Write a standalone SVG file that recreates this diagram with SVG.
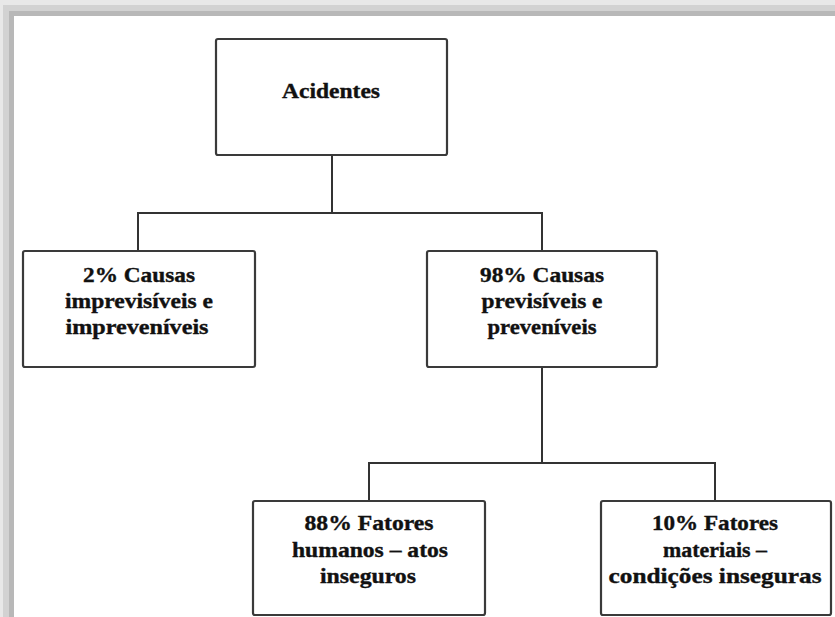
<svg xmlns="http://www.w3.org/2000/svg" width="835" height="617" viewBox="0 0 835 617">
<style>
.box{fill:#fff;stroke:#3a3a3a;stroke-width:2.2}
.lbl{font-family:"Liberation Serif","Times New Roman",serif;font-weight:bold;font-size:20px;fill:#111;stroke:#111;stroke-width:0.35;text-anchor:middle}
.conn{fill:none;stroke:#333;stroke-width:2}
</style>
<rect x="0" y="0" width="835" height="617" fill="#e8e8e8"/>
<rect x="3" y="5" width="832" height="612" fill="#d2d2d2"/>
<rect x="9" y="11" width="826" height="606" fill="#b8b8b8"/>
<rect x="14" y="16" width="821" height="601" fill="#fff"/>
<g id="connectors">
<path class="conn" d="M332 155 V213 M138 251 V213 H542 V251"/>
<path class="conn" d="M542 367 V463 M369 501 V463 H715 V501"/>
</g>
<g id="acidentes">
<rect class="box" x="216" y="39" width="231" height="116" rx="2"/>
<text class="lbl" x="331" y="98" textLength="98" lengthAdjust="spacingAndGlyphs">Acidentes</text>
</g>
<g id="causas2">
<rect class="box" x="23" y="251" width="232" height="116" rx="2"/>
<text class="lbl" x="139" y="282" textLength="112" lengthAdjust="spacingAndGlyphs">2% Causas</text>
<text class="lbl" x="139" y="308" textLength="148" lengthAdjust="spacingAndGlyphs">imprevisíveis e</text>
<text class="lbl" x="137" y="334" textLength="143" lengthAdjust="spacingAndGlyphs">impreveníveis</text>
</g>
<g id="causas98">
<rect class="box" x="427" y="251" width="230" height="116" rx="2"/>
<text class="lbl" x="542" y="282" textLength="124" lengthAdjust="spacingAndGlyphs">98% Causas</text>
<text class="lbl" x="542" y="308" textLength="121" lengthAdjust="spacingAndGlyphs">previsíveis e</text>
<text class="lbl" x="542" y="334" textLength="109" lengthAdjust="spacingAndGlyphs">preveníveis</text>
</g>
<g id="fatores88">
<rect class="box" x="253" y="501" width="232" height="114" rx="2"/>
<text class="lbl" x="369" y="530" textLength="129" lengthAdjust="spacingAndGlyphs">88% Fatores</text>
<text class="lbl" x="370" y="557" textLength="156" lengthAdjust="spacingAndGlyphs">humanos – atos</text>
<text class="lbl" x="368" y="583" textLength="96" lengthAdjust="spacingAndGlyphs">inseguros</text>
</g>
<g id="fatores10">
<rect class="box" x="601" y="501" width="230" height="114" rx="2"/>
<text class="lbl" x="715" y="530" textLength="126" lengthAdjust="spacingAndGlyphs">10% Fatores</text>
<text class="lbl" x="715" y="557" textLength="104" lengthAdjust="spacingAndGlyphs">materiais –</text>
<text class="lbl" x="715" y="583" textLength="213" lengthAdjust="spacingAndGlyphs">condições inseguras</text>
</g>
</svg>
